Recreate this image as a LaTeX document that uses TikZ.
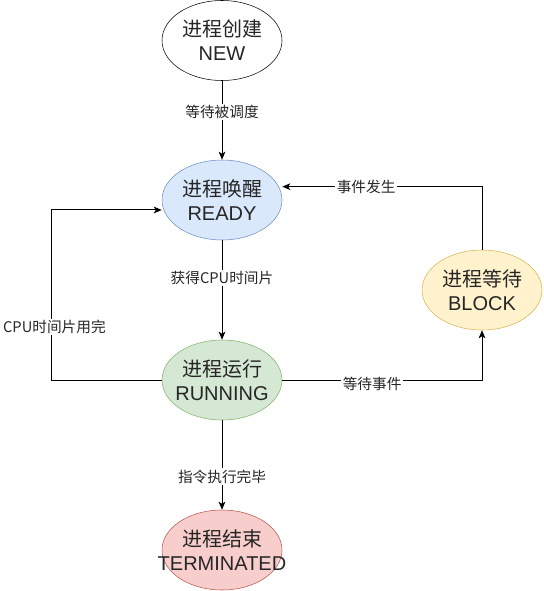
\documentclass[tikz,border=0pt]{standalone}
\usepackage{fontspec}
\setmainfont{Noto Sans CJK SC}
\newfontfamily\latinfont{Liberation Sans}
\usetikzlibrary{shapes.geometric,arrows.meta}
\definecolor{bluef}{HTML}{DAE8FC}\definecolor{blued}{HTML}{6C8EBF}
\definecolor{greenf}{HTML}{D5E8D4}\definecolor{greend}{HTML}{82B366}
\definecolor{redf}{HTML}{F8CECC}\definecolor{redd}{HTML}{B85450}
\definecolor{yelf}{HTML}{FFF2CC}\definecolor{yeld}{HTML}{D6B656}
\begin{document}
\begin{tikzpicture}[x=0.75pt,y=-0.75pt,
  state/.style={ellipse,draw,minimum width=90pt,minimum height=60pt,inner sep=0pt},
  stext/.style={align=center,font=\fontsize{15pt}{18pt}\selectfont,text=black!85,inner sep=0pt},
  arr/.style={draw=black,line width=0.75pt,-{Stealth[length=6pt,width=5pt,inset=1.5pt]}},
  elab/.style={fill=white,font=\fontsize{11pt}{13pt}\selectfont,inner sep=1pt,text=black!85}]
\useasboundingbox (0,0) rectangle (543,591);
\node[state,fill=white] (new) at (222,40.5) {};
\node[stext] (newt) at (new.center) {进程创建\\{\latinfont NEW}};
\node[state,fill=bluef,draw=blued] (ready) at (222,200) {};
\node[stext] (readyt) at (ready.center) {进程唤醒\\{\latinfont READY}};
\node[state,fill=greenf,draw=greend] (running) at (222,380) {};
\node[stext] (runningt) at (running.center) {进程运行\\{\latinfont RUNNING}};
\node[state,fill=redf,draw=redd] (term) at (222,550) {};
\node[stext] (termt) at (term.center) {进程结束\\{\latinfont TERMINATED}};
\node[state,fill=yelf,draw=yeld] (block) at (482,290) {};
\node[stext] (blockt) at (block.center) {进程等待\\{\latinfont BLOCK}};

\draw[arr] (new) -- node[elab,pos=0.4] (l1) {等待被调度} (ready);
\draw[arr] (ready) -- node[elab,pos=0.38] (l2) {获得CPU时间片} (running);
\draw[arr] (running) -- node[elab,pos=0.63] (l3) {指令执行完毕} (term);
\draw[arr] (running.west) -- ++(-110,0) |- node[elab,pos=0.156,xshift=2pt] (l4) {CPU时间片用完} ([yshift=-7.5pt]ready.west);
\draw[arr] (running.east) -| node[elab,pos=0.225,yshift=-3pt] (l5) {等待事件} (block.south);
\draw[arr] (block.north) |- node[elab,pos=0.79] (l6) {事件发生} ([yshift=10pt]ready.east);
\end{tikzpicture}
\end{document}
